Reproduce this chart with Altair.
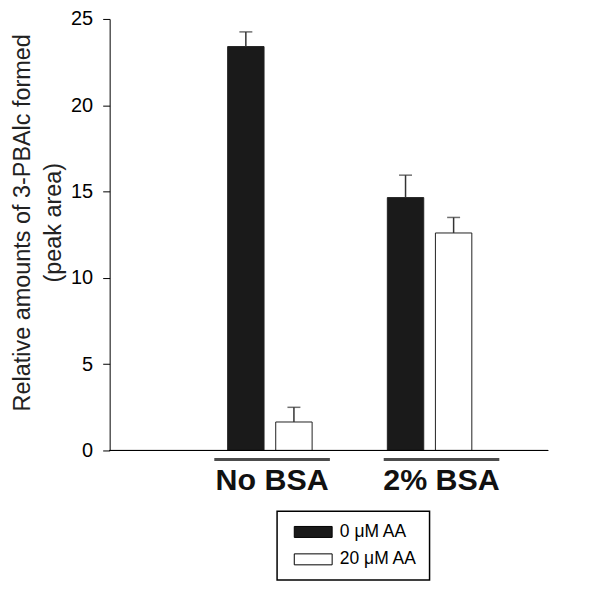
import altair as alt
import pandas as pd

# ---- data ----
groups = ["No BSA", "No BSA", "2% BSA", "2% BSA"]
series = ["0 μM AA", "20 μM AA", "0 μM AA", "20 μM AA"]
means = [23.4, 1.65, 14.65, 12.6]
errors = [0.85, 0.85, 1.3, 0.9]

group_order = ["No BSA", "2% BSA"]
series_order = ["0 μM AA", "20 μM AA"]
y_ticks = [0, 5, 10, 15, 20, 25]

df = pd.DataFrame({"group": groups, "series": series, "mean": means, "err": errors})
lbl = pd.DataFrame({"group": group_order})

FONT = "Liberation Sans"
W, H = 440, 433

xscale = alt.Scale(domain=group_order, range=[118.4, 363.4], paddingInner=0.471, paddingOuter=0)
oscale = alt.Scale(domain=series_order, paddingInner=0.243, paddingOuter=0)
yscale = alt.Scale(domain=[0, 25], nice=False, zero=True)

yaxis = alt.Axis(
    values=y_ticks,
    grid=False,
    tickSize=7,
    tickColor="black",
    domainColor="black",
    labelFontSize=20,
    labelPadding=10,
    labelColor="black",
    labelFont=FONT,
    title=["Relative amounts of 3-PBAlc formed", "(peak area)"],
    titleFont=FONT,
    titleFontSize=23.5,
    titleFontWeight="normal",
    titleColor="#222",
    titleLineHeight=31,
    titleAngle=270,
    titleBaseline="middle",
    titleAlign="center",
    titleX=-87,
    titleY=204,
)

X = alt.X("group:N", scale=xscale, axis=None, sort=group_order)
XO = alt.XOffset("series:N", scale=oscale, sort=series_order)

base = alt.Chart(df).transform_calculate(upper="datum.mean + datum.err", zero="0")

bars = base.mark_bar(stroke="#222", strokeWidth=1).encode(
    x=X,
    xOffset=XO,
    y=alt.Y("mean:Q", scale=yscale, axis=yaxis),
    color=alt.Color(
        "series:N",
        scale=alt.Scale(domain=series_order, range=["#1a1a1a", "#ffffff"]),
        legend=alt.Legend(
            title=None,
            orient="none",
            legendX=168,
            legendY=494,
            direction="vertical",
            padding=12,
            strokeColor="black",
            fillColor="white",
            labelFont=FONT,
            labelFontSize=17.5,
            labelColor="black",
            rowPadding=8.5,
            symbolType="M-3.8,-1.1L3.8,-1.1L3.8,1.1L-3.8,1.1Z",
            symbolSize=100,
            symbolStrokeColor="black",
            symbolStrokeWidth=1,
            symbolOffset=15.5,
            labelOffset=18,
        ),
    ),
)

errs = base.mark_rule(color="#333", strokeWidth=1.5).encode(
    x=X, xOffset=XO,
    y=alt.Y("mean:Q", scale=yscale, axis=yaxis),
    y2="upper:Q",
)

caps = base.mark_tick(orient="horizontal", size=13, thickness=1.5, color="#333").encode(
    x=X, xOffset=XO,
    y=alt.Y("upper:Q", scale=yscale, axis=yaxis),
)

baseline = base.mark_rule(color="black", strokeWidth=1).encode(
    y=alt.Y("zero:Q", scale=yscale, axis=yaxis),
    x=alt.value(0),
    x2=alt.value(W),
)

lscale = alt.Scale(type="point", domain=group_order, range=[163, 333], padding=0)

underline = alt.Chart(lbl).mark_tick(orient="horizontal", size=116, thickness=3, color="black").encode(
    x=alt.X("group:N", scale=lscale, axis=None),
    y=alt.value(442),
)

labels = alt.Chart(lbl).mark_text(
    font=FONT, fontSize=30.5, fontWeight="bold", color="#111", baseline="alphabetic", align="center"
).encode(
    x=alt.X("group:N", scale=lscale, axis=None),
    y=alt.value(473),
    text="group:N",
)

chart = (
    alt.layer(bars, errs, caps, baseline, underline, labels)
    .resolve_scale(x="independent")
    .properties(
        width=W,
        height=H,
        autosize=alt.AutoSizeParams(type="none"),
        padding={"left": 102, "top": 10, "right": 45, "bottom": 132},
        background="white",
    )
    .configure_view(stroke=None)
    .configure_axis(labelFont=FONT, titleFont=FONT)
    .configure_legend(strokeWidth=1.5)
)

chart.save("out.html", embed_options={"renderer": "svg", "actions": False})
